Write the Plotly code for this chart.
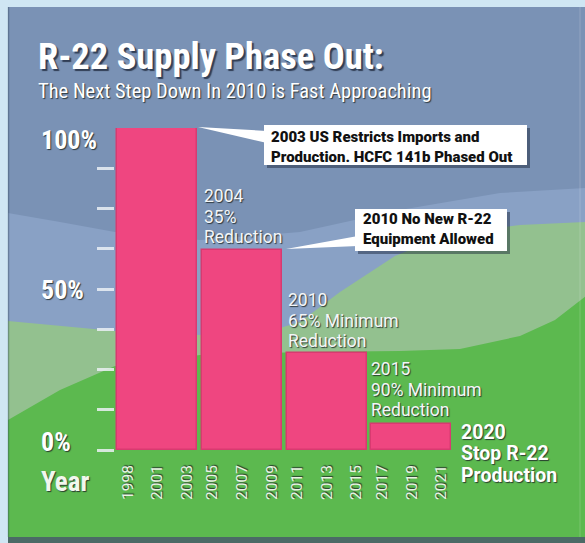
import plotly.graph_objects as go

# ---------------- data ----------------
values = [100, 62, 30, 8]                 # share of baseline supply (%)
year_labels = ["1998", "2001", "2003", "2005", "2007", "2009",
               "2011", "2013", "2015", "2017", "2019", "2021"]
year_offsets = [-0.35, 0.0, 0.35]         # 3 year labels per bar
bar_notes = [[], ["2004", "35%", "Reduction"],
             ["2010", "65% Minimum", "Reduction"],
             ["2015", "90% Minimum", "Reduction"]]
final_note = ["2020", "Stop R-22", "Production"]
callouts = ["2003 US Restricts Imports and<br>Production. HCFC 141b Phased Out",
            "2010 No New R-22<br>Equipment Allowed"]
pct_labels = ["100%", "50%", "0%"]
title = "R-22 Supply Phase Out:"
subtitle = "The Next Step Down In 2010 is Fast Approaching"

# ---------------- geometry helpers ----------------
W, H = 585, 543
ML, MR, MT, MB = 115, 38, 128, 93
PW, PH = W - ML - MR, H - MT - MB


def PX(x):
    return (x - ML) / PW


def PY(y):
    return (H - MB - y) / PH


def poly(points):
    s = "M " + " L ".join(f"{PX(x):.4f},{PY(y):.4f}" for x, y in points) + " Z"
    return s


NARROW = "Roboto Condensed, Liberation Sans Narrow, DejaVu Sans Condensed, sans-serif"
WIDE = "Roboto, Liberation Sans, DejaVu Sans, sans-serif"
SHADOW = "1px 1px 1px rgba(30,40,40,0.85)"

fig = go.Figure()

bar_x = list(range(len(values)))
fig.add_trace(go.Bar(
    x=bar_x, y=values, width=0.944,
    marker=dict(color="#ef4680", line=dict(color="#d83a70", width=1.5)),
    hoverinfo="skip", showlegend=False,
))

tickvals = [i + o for i in bar_x for o in year_offsets]

shapes = []
# panel backgrounds
shapes.append(dict(type="rect", xref="paper", yref="paper",
                   x0=PX(8), x1=PX(586), y0=PY(7), y1=PY(543),
                   fillcolor="#4b6a66", line_width=0, layer="below"))
shapes.append(dict(type="rect", xref="paper", yref="paper",
                   x0=PX(8), x1=PX(586), y0=PY(7), y1=PY(537),
                   fillcolor="#7a92b5", line_width=0, layer="below"))
# lighter blue band
shapes.append(dict(type="path", xref="paper", yref="paper", layer="below",
                   path=poly([(8, 213), (60, 222), (115, 232), (200, 240), (300, 232),
                              (400, 210), (500, 193), (586, 188), (586, 537), (8, 537)]),
                   fillcolor="#89a1c5", line_width=0))
# pale green band
shapes.append(dict(type="path", xref="paper", yref="paper", layer="below",
                   path=poly([(8, 321), (115, 331), (200, 335), (260, 334), (300, 322),
                              (340, 292), (395, 256), (450, 234), (520, 225), (586, 222),
                              (586, 537), (8, 537)]),
                   fillcolor="#93c18f", line_width=0))
# bright green
shapes.append(dict(type="path", xref="paper", yref="paper", layer="below",
                   path=poly([(8, 420), (60, 390), (115, 366), (200, 355), (300, 352),
                              (400, 351), (460, 349), (520, 336), (555, 320), (586, 296),
                              (586, 537), (8, 537)]),
                   fillcolor="#5cb94f", line_width=0))
# panel edges
shapes.append(dict(type="line", xref="paper", yref="paper", layer="below",
                   x0=PX(8.5), x1=PX(8.5), y0=PY(7), y1=PY(537),
                   line=dict(color="rgba(40,60,80,0.35)", width=1.5)))
shapes.append(dict(type="line", xref="paper", yref="paper", layer="below",
                   x0=PX(580), x1=PX(580), y0=PY(7), y1=PY(537),
                   line=dict(color="rgba(255,255,255,0.12)", width=1.5)))

# callout boxes (shadow, box, pointer)
box1 = (264, 125, 527, 165)
box2 = (355, 209, 507, 251)
for (x0, y0, x1, y1) in (box1, box2):
    shapes.append(dict(type="rect", xref="paper", yref="paper",
                       x0=PX(x0 + 3), x1=PX(x1 + 3), y0=PY(y0 + 3), y1=PY(y1 + 3),
                       fillcolor="rgba(20,30,50,0.45)", line_width=0))
    shapes.append(dict(type="rect", xref="paper", yref="paper",
                       x0=PX(x0), x1=PX(x1), y0=PY(y0), y1=PY(y1),
                       fillcolor="white", line_width=0))
# pointers from bar tops to the boxes
shapes.append(dict(type="path", xref="paper", yref="paper",
                   path=poly([(198, 127), (267, 131), (267, 143)]),
                   fillcolor="white", line_width=0))
shapes.append(dict(type="path", xref="paper", yref="paper",
                   path=poly([(286, 249), (358, 236), (358, 246)]),
                   fillcolor="white", line_width=0))

ann = []


def label(text, x, y, family, size, color, shadow=SHADOW, weight="normal", align="left"):
    ann.append(dict(text=text, x=PX(x), y=PY(y), xref="paper", yref="paper",
                    xanchor="left", yanchor="middle", align=align, showarrow=False,
                    font=dict(family=family, size=size, color=color, shadow=shadow,
                              weight=weight)))


label(title, 36, 57, NARROW, 36.5, "white", shadow="2px 2px 1px rgba(30,40,60,0.8)", weight="bold")
label(subtitle, 36, 91, NARROW, 20.5, "white")
# percent labels
for lbl, yy in zip(pct_labels, (140, 290, 442)):
    label(lbl, 39, yy, NARROW, 26, "white", weight="bold")
label("Year", 39, 482, NARROW, 27, "#f2f7ee", weight="bold")
# bar notes (each line placed separately for tight line spacing)
note_pos = {1: (202, 196), 2: (286, 300), 3: (369, 369)}
for i, lines in enumerate(bar_notes):
    if not lines:
        continue
    xx, yy = note_pos[i]
    for k, ln in enumerate(lines):
        label(ln, xx, yy + 20.5 * k, WIDE, 17.5, "#f4f6f8")
for k, ln in enumerate(final_note):
    label(ln, 459, 432 + 21.5 * k, WIDE, 19.5, "white", weight="bold")
# callout texts
label(callouts[0], 269, 147, WIDE, 15, "#111111", shadow="none", weight=900)
label(callouts[1], 361, 229, WIDE, 15, "#111111", shadow="none", weight=900)

fig.update_layout(
    width=W, height=H,
    margin=dict(l=ML, r=MR, t=MT, b=MB, pad=0),
    paper_bgcolor="#cfe6f3", plot_bgcolor="rgba(0,0,0,0)",
    shapes=shapes, annotations=ann, bargap=0,
    xaxis=dict(range=[-0.5, 4.6], tickmode="array", tickvals=tickvals,
               ticktext=year_labels, tickangle=-90, showgrid=False, zeroline=False,
               showline=False, ticks="", ticklabelstandoff=11,
               tickfont=dict(family=WIDE, size=15.5, color="#e9f4e4", shadow=SHADOW)),
    yaxis=dict(range=[0, 100], tickmode="array",
               tickvals=[0, 12.5, 25, 37.5, 50, 62.5, 75, 87.5],
               showticklabels=False, ticks="outside", ticklen=17, tickwidth=3,
               tickcolor="rgba(235,240,245,0.85)", showgrid=False, zeroline=False,
               showline=False),
)

fig.write_html("out.html", config={"displayModeBar": False},
               post_script="document.body.style.margin='0px';")
